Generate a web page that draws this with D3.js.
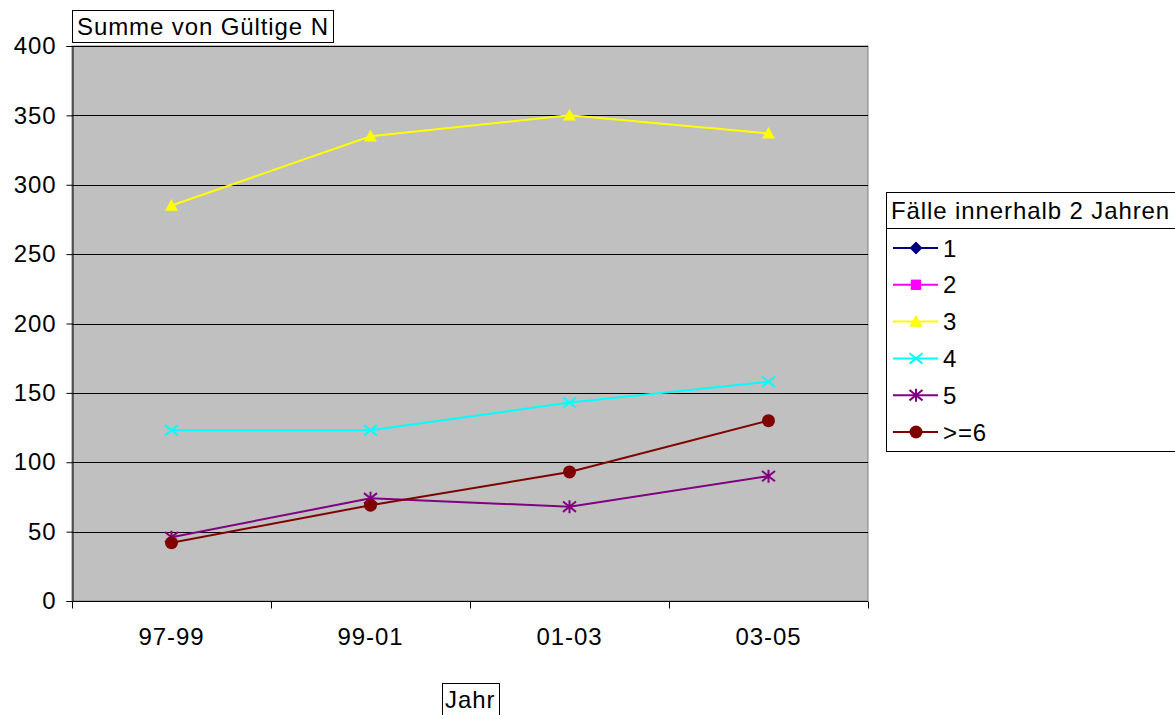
<!DOCTYPE html>
<html>
<head>
<meta charset="utf-8">
<script src="https://cdn.jsdelivr.net/npm/d3@7"></script>
<style>
  body { margin: 0; background: #fff; }
  svg text { font-family: "Liberation Sans", Arial, sans-serif; fill: #000; letter-spacing: 0.9px; }
</style>
</head>
<body>
<div id="chart"></div>
<script>
const categories = ["97-99", "99-01", "01-03", "03-05"];
const seriesNames = ["1", "2", "3", "4", "5", ">=6"];
const series1 = [null, null, null, null];
const series2 = [null, null, null, null];
const series3 = [285, 335, 350, 337];
const series4 = [123, 123, 143, 158];
const series5 = [46, 74, 68, 90];
const series6 = [42, 69, 93, 130];
const yTicks = [0, 50, 100, 150, 200, 250, 300, 350, 400];

const colors = ["#000080", "#ff00ff", "#ffff00", "#00ffff", "#800080", "#800000"];
const markers = ["diamond", "square", "triangle", "x", "star", "circle"];
const allSeries = [series1, series2, series3, series4, series5, series6];

const W = 1175, H = 715;
const plot = { left: 72, right: 868, top: 46, bottom: 601 };
const FS = 24;

const svg = d3.select("#chart").append("svg")
  .attr("width", W).attr("height", H);

const x = d3.scaleBand().domain(categories).range([plot.left, plot.right]);
const y = d3.scaleLinear().domain([0, 400]).range([plot.bottom, plot.top]);

// plot background
svg.append("rect")
  .attr("x", plot.left).attr("y", plot.top)
  .attr("width", plot.right - plot.left).attr("height", plot.bottom - plot.top)
  .attr("fill", "#c0c0c0").attr("stroke", "#808080").attr("stroke-width", 1);

// gridlines
svg.append("g").selectAll("line").data(yTicks.filter(d => d > 0)).join("line")
  .attr("x1", plot.left).attr("x2", plot.right)
  .attr("y1", d => Math.round(y(d)) + 0.5).attr("y2", d => Math.round(y(d)) + 0.5)
  .attr("stroke", "#000").attr("stroke-width", 1);

// y axis
const yAxis = svg.append("g")
  .attr("transform", `translate(${plot.left + 0.5},0)`)
  .call(d3.axisLeft(y).tickValues(yTicks).tickSize(6).tickPadding(10));
yAxis.attr("font-size", null).attr("font-family", null);
yAxis.select(".domain").attr("stroke", "#000");
yAxis.selectAll("text").style("font-size", FS + "px");

// x axis
const xAxis = svg.append("g")
  .attr("transform", `translate(0,${plot.bottom + 0.5})`)
  .call(d3.axisBottom(x).tickSize(0).tickPadding(26));
xAxis.attr("font-size", null).attr("font-family", null);
xAxis.select(".domain").attr("d", `M${plot.left},0H${plot.right}`).attr("stroke", "#000");
xAxis.selectAll("text").style("font-size", FS + "px");
const bounds = categories.map(c => x(c)).concat([x(categories[categories.length - 1]) + x.bandwidth()]);
xAxis.selectAll(".bnd").data(bounds).join("line")
  .attr("x1", d => Math.round(d) + 0.5).attr("x2", d => Math.round(d) + 0.5)
  .attr("y1", 0).attr("y2", 7).attr("stroke", "#000");

function drawMarker(g, type, color, size) {
  const s = size;
  if (type === "diamond") {
    g.append("path").attr("d", `M0,${-s}L${s},0L0,${s}L${-s},0Z`).attr("fill", color);
  } else if (type === "square") {
    g.append("rect").attr("x", -s * 0.8).attr("y", -s * 0.8)
      .attr("width", s * 1.6).attr("height", s * 1.6).attr("fill", color);
  } else if (type === "triangle") {
    g.append("path").attr("d", `M0,${-s}L${s},${s * 0.8}L${-s},${s * 0.8}Z`).attr("fill", color);
  } else if (type === "x") {
    g.append("path").attr("d", `M${-s},${-s * 0.8}L${s},${s * 0.8}M${-s},${s * 0.8}L${s},${-s * 0.8}`)
      .attr("stroke", color).attr("stroke-width", 2);
  } else if (type === "star") {
    g.append("path").attr("d", `M${-s},${-s * 0.8}L${s},${s * 0.8}M${-s},${s * 0.8}L${s},${-s * 0.8}M0,${-s}L0,${s}`)
      .attr("stroke", color).attr("stroke-width", 2);
  } else if (type === "circle") {
    g.append("circle").attr("r", s).attr("fill", color);
  }
}

const line = d3.line()
  .defined(d => d != null)
  .x((d, i) => x(categories[i]) + x.bandwidth() / 2)
  .y(d => y(d));

allSeries.forEach((vals, si) => {
  svg.append("path")
    .attr("d", line(vals))
    .attr("fill", "none").attr("stroke", colors[si]).attr("stroke-width", 2);
  vals.forEach((v, i) => {
    if (v == null) return;
    const g = svg.append("g")
      .attr("transform", `translate(${x(categories[i]) + x.bandwidth() / 2},${y(v)})`);
    drawMarker(g, markers[si], colors[si], 6.5);
  });
});

// boxed labels
function boxedText(bx, by, bw, bh, tx, ty, label) {
  const g = svg.append("g");
  g.append("rect").attr("x", bx + 0.5).attr("y", by + 0.5).attr("width", bw).attr("height", bh)
    .attr("fill", "#fff").attr("stroke", "#000");
  g.append("text").attr("x", tx).attr("y", ty).style("font-size", FS + "px").text(label);
}
boxedText(72, 10, 261, 32, 77, 35, "Summe von Gültige N");
boxedText(442, 683, 57, 34, 445, 708, "Jahr");

// legend
const lg = svg.append("g");
lg.append("rect").attr("x", 886.5).attr("y", 192.5).attr("width", 300).attr("height", 36)
  .attr("fill", "#fff").attr("stroke", "#000");
lg.append("rect").attr("x", 886.5).attr("y", 228.5).attr("width", 300).attr("height", 223)
  .attr("fill", "#fff").attr("stroke", "#000");
lg.append("text").attr("x", 891).attr("y", 219).style("font-size", FS + "px")
  .text("Fälle innerhalb 2 Jahren");
seriesNames.forEach((name, i) => {
  const ly = 248 + i * 36.8;
  lg.append("line").attr("x1", 893).attr("x2", 938).attr("y1", ly).attr("y2", ly)
    .attr("stroke", colors[i]).attr("stroke-width", 2);
  drawMarker(lg.append("g").attr("transform", `translate(916,${ly})`), markers[i], colors[i], 6.5);
  lg.append("text").attr("x", 943).attr("y", ly + 8.5).style("font-size", FS + "px").text(name);
});
</script>
</body>
</html>
